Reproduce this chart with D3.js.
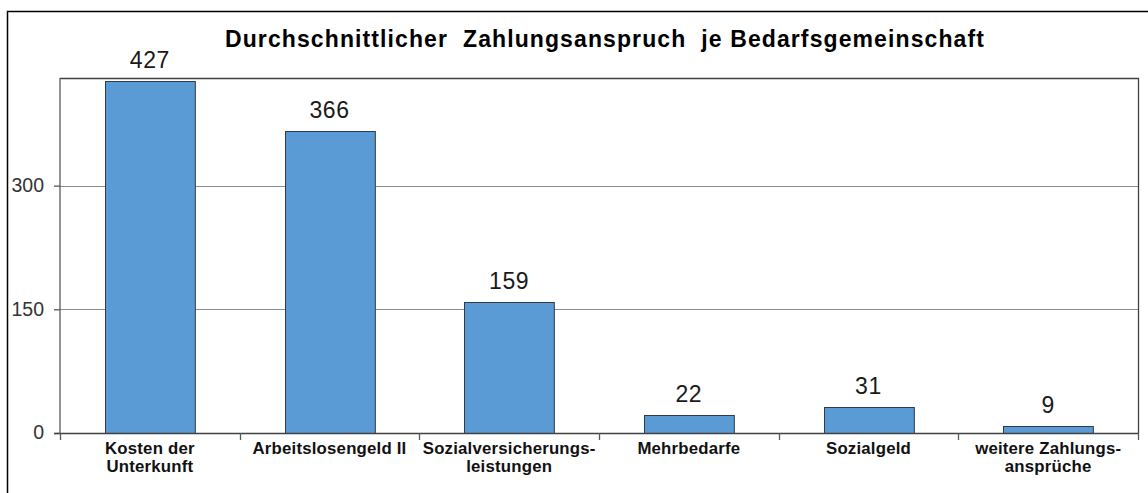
<!DOCTYPE html>
<html>
<head>
<meta charset="utf-8">
<script src="https://cdn.jsdelivr.net/npm/d3@7"></script>
<style>
  html, body { margin: 0; padding: 0; background: #fff; }
  svg { display: block; }
  text { font-family: "Liberation Sans", Arial, sans-serif; }
</style>
</head>
<body>
<svg id="chart" width="1148" height="493"></svg>
<script>
const categories = [
  ["Kosten der", "Unterkunft"],
  ["Arbeitslosengeld II"],
  ["Sozialversicherungs-", "leistungen"],
  ["Mehrbedarfe"],
  ["Sozialgeld"],
  ["weitere Zahlungs-", "ansprüche"]
];
const values = [427, 366, 159, 22, 31, 9];
const yTicks = [0, 150, 300];
const title = "Durchschnittlicher  Zahlungsanspruch  je Bedarfsgemeinschaft";

const svg = d3.select("#chart");
const W = 1148, H = 493;
const plot = { left: 60, right: 1138, top: 78, bottom: 433 };

// outer frame
svg.append("rect")
  .attr("x", 7.5).attr("y", 11.5)
  .attr("width", W + 20).attr("height", H + 20)
  .attr("fill", "none").attr("stroke", "#000").attr("stroke-width", 1.5);

const x = d3.scaleBand()
  .domain(d3.range(categories.length))
  .range([plot.left, plot.right])
  .paddingInner(0.5).paddingOuter(0.25);
const band = d3.scaleBand().domain(d3.range(categories.length)).range([plot.left, plot.right]);
const y = d3.scaleLinear().domain([0, 430.5]).range([plot.bottom, plot.top]);

// gridlines
svg.append("g").selectAll("line").data(yTicks.filter(d => d > 0)).join("line")
  .attr("x1", plot.left).attr("x2", plot.right)
  .attr("y1", d => Math.round(y(d)) + 0.5).attr("y2", d => Math.round(y(d)) + 0.5)
  .attr("stroke", "#8c8c8c").attr("stroke-width", 1);

// plot border top & right
svg.append("path")
  .attr("d", `M${plot.left},${plot.top + 0.5}H${plot.right + 0.5}V${plot.bottom}`)
  .attr("fill", "none").attr("stroke", "#404040").attr("stroke-width", 1.3);

// bars
svg.append("g").selectAll("rect").data(values).join("rect")
  .attr("x", (d, i) => Math.round(x(i)) + 0.5)
  .attr("width", x.bandwidth())
  .attr("y", d => Math.round(y(d)) + 0.5)
  .attr("height", d => Math.round(y(0)) - Math.round(y(d)))
  .attr("fill", "#5b9bd5").attr("stroke", "#2f3b48").attr("stroke-width", 1);

// value labels
svg.append("g").selectAll("text").data(values).join("text")
  .attr("x", (d, i) => x(i) + x.bandwidth() / 2)
  .attr("y", d => y(d) - 13)
  .attr("text-anchor", "middle")
  .attr("font-size", 23).attr("letter-spacing", 0.6).attr("fill", "#1a1a1a")
  .text(d => d);

// y axis
const yAxis = d3.axisLeft(y).tickValues(yTicks).tickSize(6).tickPadding(10).tickFormat(d3.format("d"));
const gy = svg.append("g").attr("transform", `translate(${plot.left},0)`).call(yAxis);
gy.select(".domain").attr("stroke", "#595959").attr("stroke-width", 1.3).attr("d", `M0,${plot.top}V${plot.bottom}`);
gy.selectAll(".tick line").attr("stroke", "#595959").attr("stroke-width", 1.3);
gy.selectAll(".tick text").attr("font-size", 19.5).attr("fill", "#333")
  .attr("font-family", "Liberation Sans, Arial, sans-serif").attr("dy", "0.3em");

// x axis
const xAxis = d3.axisBottom(band).tickSize(0).tickFormat("");
const gx = svg.append("g").attr("transform", `translate(0,${plot.bottom})`).call(xAxis);
gx.select(".domain").attr("stroke", "#404040").attr("stroke-width", 1.3)
  .attr("d", `M${plot.left - 6},0.5H${plot.right}`);
gx.selectAll(".tick").remove();
// category boundary ticks
svg.append("g").selectAll("line").data(d3.range(categories.length + 1)).join("line")
  .attr("x1", i => Math.round(plot.left + i * band.step()) + 0.5)
  .attr("x2", i => Math.round(plot.left + i * band.step()) + 0.5)
  .attr("y1", plot.bottom).attr("y2", plot.bottom + 7)
  .attr("stroke", "#595959").attr("stroke-width", 1.3);

// category labels
const lbl = svg.append("g").selectAll("text").data(categories).join("text")
  .attr("text-anchor", "middle")
  .attr("font-size", 16.8).attr("letter-spacing", 0.2).attr("font-weight", "bold").attr("fill", "#111")
  .attr("transform", (d, i) => `translate(${band(i) + band.bandwidth() / 2},454)`);
lbl.selectAll("tspan").data(d => d).join("tspan")
  .attr("x", 0).attr("y", (d, j) => j * 17.7)
  .text(d => d);

// title
svg.append("text")
  .attr("x", 605).attr("y", 47)
  .attr("text-anchor", "middle")
  .attr("font-size", 23).attr("letter-spacing", 1.1).attr("font-weight", "bold").attr("fill", "#000")
  .attr("xml:space", "preserve").style("white-space", "pre")
  .text(title);
</script>
</body>
</html>
